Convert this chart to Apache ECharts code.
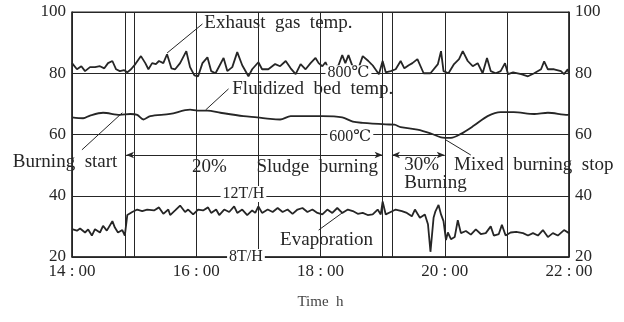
<!DOCTYPE html>
<html>
<head>
<meta charset="utf-8">
<script src="https://cdn.jsdelivr.net/npm/echarts@6/dist/echarts.min.js"></script>
<style>
  html, body { margin: 0; padding: 0; background: #fff; }
  #chart { width: 624px; height: 322px; }
</style>
</head>
<body>
<div id="chart"></div>
<script>
// [hour, value]
const exhaustGas = [
  [14.00,83.3],[14.08,81.3],[14.15,82.3],[14.21,80.7],[14.29,82.0],[14.37,82.0],[14.45,82.3],[14.52,81.6],
  [14.58,83.3],[14.65,84.0],[14.71,81.3],[14.77,80.7],[14.84,81.0],[14.89,80.3],[14.95,81.3],[15.02,83.0],
  [15.11,85.6],[15.18,83.3],[15.23,81.3],[15.29,83.3],[15.35,83.0],[15.40,84.0],[15.47,83.3],[15.53,86.2],
  [15.60,81.6],[15.66,81.3],[15.74,83.3],[15.84,87.2],[15.90,82.0],[15.97,79.3],[16.03,79.0],[16.10,83.3],
  [16.18,85.2],[16.24,80.7],[16.31,80.0],[16.37,82.3],[16.44,85.0],[16.50,80.7],[16.58,82.0],[16.66,86.9],
  [16.74,82.6],[16.84,79.0],[16.90,81.3],[17.00,83.6],[17.06,81.3],[17.16,81.3],[17.27,83.0],[17.35,82.3],
  [17.44,84.0],[17.52,81.6],[17.60,79.7],[17.68,83.0],[17.76,81.3],[17.84,83.3],[17.92,85.0],[17.97,83.3],
  [18.03,82.3],[18.08,83.6],[18.13,81.3],[18.21,81.6],[18.29,82.6],[18.35,85.9],[18.40,83.3],[18.45,85.9],
  [18.52,82.0],[18.60,81.0],[18.68,85.6],[18.77,84.0],[18.85,82.3],[18.94,79.7],[19.00,84.0],[19.05,80.3],
  [19.13,80.7],[19.21,81.3],[19.29,84.0],[19.35,81.6],[19.42,82.6],[19.48,83.3],[19.56,84.6],[19.66,80.0],
  [19.77,80.0],[19.89,83.0],[19.94,87.2],[19.98,80.7],[20.06,80.0],[20.15,83.0],[20.23,84.6],[20.29,87.2],
  [20.37,84.0],[20.45,82.3],[20.53,83.3],[20.61,80.0],[20.68,85.0],[20.74,80.7],[20.82,80.0],[20.90,80.7],
  [20.97,83.3],[21.02,79.7],[21.10,80.3],[21.23,79.7],[21.34,79.0],[21.44,80.0],[21.55,81.3],[21.60,83.9],
  [21.66,81.3],[21.76,81.3],[21.87,80.7],[21.92,79.7],[21.98,81.3],[22.00,79.7]
];

const fluidizedBed = [
  [14.00,65.6],[14.18,65.3],[14.29,66.2],[14.50,67.1],[14.77,66.4],[14.94,66.7],[15.05,66.4],[15.15,64.9],
  [15.26,66.0],[15.58,66.7],[15.90,68.1],[16.02,67.8],[16.18,67.8],[16.39,67.1],[16.76,66.0],[16.98,65.6],
  [17.19,65.1],[17.35,64.9],[17.52,66.0],[17.95,66.0],[18.03,66.0],[18.35,65.6],[18.52,64.2],[18.68,63.8],
  [19.05,63.3],[19.19,63.2],[19.29,62.4],[19.56,61.6],[19.77,60.4],[19.94,59.1],[20.10,58.9],[20.26,60.2],
  [20.47,62.9],[20.69,66.0],[20.90,67.3],[21.11,67.3],[21.44,66.7],[21.66,67.1],[21.98,66.4],[22.00,66.7]
];

const evaporation = [
  [14.00,29.1],[14.08,28.6],[14.13,29.3],[14.21,28.0],[14.26,29.0],[14.32,27.0],[14.37,29.1],[14.45,28.0],
  [14.50,30.2],[14.56,28.6],[14.65,31.7],[14.69,29.6],[14.74,28.0],[14.81,28.8],[14.85,27.0],[14.89,33.7],
  [14.97,34.7],[15.05,35.5],[15.13,35.0],[15.21,35.5],[15.32,35.2],[15.40,36.2],[15.47,34.1],[15.55,35.5],
  [15.58,33.7],[15.66,35.2],[15.74,36.8],[15.82,34.7],[15.87,35.5],[15.95,33.9],[16.03,35.5],[16.11,35.2],
  [16.19,36.2],[16.24,34.4],[16.32,35.5],[16.37,33.7],[16.45,35.5],[16.53,34.7],[16.61,36.5],[16.66,34.4],
  [16.74,35.5],[16.82,33.7],[16.90,35.2],[16.95,34.4],[17.00,36.5],[17.06,34.4],[17.15,35.5],[17.23,34.7],
  [17.31,36.0],[17.39,34.7],[17.47,35.5],[17.55,34.1],[17.63,35.5],[17.71,36.0],[17.79,34.7],[17.87,35.5],
  [17.95,34.4],[18.03,33.9],[18.11,35.5],[18.19,34.4],[18.27,36.0],[18.35,34.4],[18.44,35.5],[18.52,35.0],
  [18.60,34.1],[18.68,34.4],[18.76,33.7],[18.84,33.9],[18.92,35.5],[18.97,33.9],[19.00,38.1],[19.05,33.9],
  [19.13,34.7],[19.21,35.5],[19.31,35.0],[19.39,34.4],[19.47,33.3],[19.52,35.5],[19.60,32.8],[19.68,33.9],
  [19.73,30.7],[19.77,21.7],[19.82,32.8],[19.85,34.9],[19.90,37.0],[19.94,33.9],[19.98,31.7],[20.02,25.5],
  [20.05,28.0],[20.10,25.8],[20.16,26.5],[20.21,32.0],[20.26,27.8],[20.34,28.5],[20.42,27.3],[20.50,29.0],
  [20.58,27.5],[20.66,27.8],[20.74,30.0],[20.79,27.0],[20.87,27.5],[20.92,30.5],[20.98,27.0],[21.06,28.0],
  [21.15,28.2],[21.26,27.8],[21.34,27.0],[21.42,27.8],[21.50,27.0],[21.58,28.8],[21.66,26.5],[21.74,27.8],
  [21.82,27.0],[21.92,28.8],[22.00,27.8]
];

// event lines (hours) besides the hourly grid
const eventLines = [14.85, 19.15];

// text notes: [text, hour, value, anchor]
const notes = [
  ["Exhaust  gas  temp.", 16.13, 96.3, "left"],
  ["Fluidized  bed  temp.", 16.58, 75.0, "left"],
  ["Burning  start", 14.73, 51.0, "right"],
  ["20%", 15.93, 49.4, "left"],
  ["Sludge  burning", 16.97, 49.4, "left"],
  ["30%", 19.35, 50.0, "left"],
  ["Burning", 19.35, 44.2, "left"],
  ["Mixed  burning  stop", 20.15, 50.0, "left"],
  ["Evaporation", 17.35, 25.5, "left"]
];

// labels sitting on grid lines: [text, hour, value]
const lineLabels = [
  ["800\u2103", 18.45, 80],
  ["600\u2103", 18.48, 59.2],
  ["12T/H", 16.76, 40.6],
  ["8T/H", 16.8, 20]
];

// leader lines and arrows: [[h1, v1], [h2, v2]]
const leaders = [
  [[16.10, 96.1], [15.53, 86.6]],
  [[16.52, 74.9], [16.15, 68.0]],
  [[14.16, 55.0], [14.81, 67.1]],
  [[20.42, 53.3], [20.02, 58.2]],
  [[17.97, 28.8], [18.37, 34.7]]
];
const spans = [
  [[14.87, 53.3], [19.0, 53.3]],
  [[19.15, 53.3], [20.0, 53.3]]
];

const ink = "#262626";
const serif = '"Liberation Serif", "DejaVu Serif", serif';

const chart = echarts.init(document.getElementById("chart"));

const noteData = notes.map(([t, h, v, a]) => ({
  coord: [h, v],
  label: { formatter: t, position: a === "right" ? "left" : "right", distance: 0 }
})).concat(lineLabels.map(([t, h, v]) => ({
  coord: [h, v],
  label: { formatter: t, position: "inside", backgroundColor: "#fff", padding: [0, 2], fontSize: 16 }
})));

chart.setOption({
  backgroundColor: "#fff",
  animation: false,
  grid: { left: 72, right: 55, top: 12, bottom: 65, show: true, borderColor: ink, borderWidth: 1 },
  xAxis: {
    type: "value",
    min: 14,
    max: 22,
    interval: 1,
    name: "Time  h",
    nameLocation: "middle",
    nameGap: 38,
    nameTextStyle: { color: "#444", fontFamily: serif, fontSize: 15 },
    axisLine: { lineStyle: { color: ink, width: 1.5 } },
    axisTick: { show: false },
    splitLine: { show: true, lineStyle: { color: ink, width: 1 } },
    axisLabel: {
      color: ink,
      fontFamily: serif,
      fontSize: 17,
      margin: 6,
      formatter: v => (v % 2 === 0 ? v + " : 00" : "")
    }
  },
  yAxis: [
    {
      type: "value", min: 20, max: 100, interval: 20,
      axisLine: { show: true, lineStyle: { color: ink, width: 1.5 } },
      axisTick: { show: false },
      splitLine: { show: true, lineStyle: { color: ink, width: 1 } },
      axisLabel: { color: ink, fontFamily: serif, fontSize: 17, margin: 6 }
    },
    {
      type: "value", min: 20, max: 100, interval: 20, position: "right",
      axisLine: { show: true, lineStyle: { color: ink, width: 1.5 } },
      axisTick: { show: false },
      splitLine: { show: false },
      axisLabel: { color: ink, fontFamily: serif, fontSize: 17, margin: 6 }
    }
  ],
  series: [
    {
      name: "Exhaust gas temp.", type: "line", data: exhaustGas, showSymbol: false,
      lineStyle: { color: ink, width: 1.8 }
    },
    {
      name: "Fluidized bed temp.", type: "line", data: fluidizedBed, showSymbol: false, smooth: 0.3,
      lineStyle: { color: ink, width: 1.8 }
    },
    {
      name: "Evaporation", type: "line", data: evaporation, showSymbol: false,
      lineStyle: { color: ink, width: 1.8 },
      markLine: {
        silent: true,
        symbol: "none",
        label: { show: false },
        lineStyle: { color: ink, type: "solid", width: 1 },
        data: eventLines.map(h => ({ xAxis: h }))
          .concat(leaders.map(([a, b]) => [{ coord: a }, { coord: b }]))
          .concat(spans.map(([a, b]) => [
            { coord: a, symbol: "arrow", symbolSize: [5, 8] },
            { coord: b, symbol: "arrow", symbolSize: [5, 8] }
          ]))
      },
      markPoint: {
        silent: true,
        symbol: "circle",
        symbolSize: 0,
        label: { show: true, color: ink, fontFamily: serif, fontSize: 19 },
        data: noteData
      }
    }
  ]
});
</script>
</body>
</html>
